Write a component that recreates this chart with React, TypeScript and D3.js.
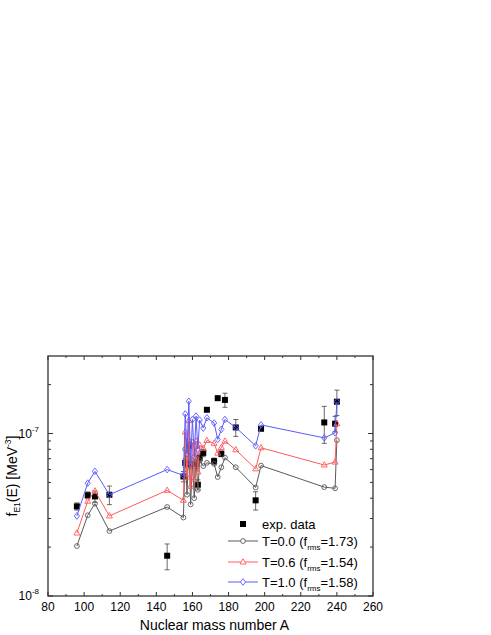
import React, { useEffect, useRef } from "react";
import * as d3 from "d3";

// nuclear mass numbers used by the model curves
const massA = [96, 102, 106, 114, 146, 155, 156, 157, 158, 159, 160, 161, 162, 163, 164, 166, 168, 172, 174, 176, 178, 184, 195, 198, 233, 239, 240];

// f_E1(E) in MeV^-3 for three temperatures
const fT00 = [2.03e-8, 3.14e-8, 3.7e-8, 2.51e-8, 3.53e-8, 3.04e-8, 8.0e-8, 4.2e-8, 9.0e-8, 3.66e-8, 6.8e-8, 4.0e-8, 7.0e-8, 4.5e-8, 6.8e-8, 6.3e-8, 6.6e-8, 6.5e-8, 5.4e-8, 6.2e-8, 7.1e-8, 6.2e-8, 4.65e-8, 6.35e-8, 4.68e-8, 4.6e-8, 9.1e-8];
const fT06 = [2.44e-8, 3.83e-8, 4.43e-8, 3.11e-8, 4.47e-8, 3.88e-8, 1.02e-7, 5.4e-8, 1.2e-7, 4.73e-8, 8.8e-8, 5.2e-8, 9.0e-8, 5.8e-8, 8.5e-8, 8.1e-8, 9.06e-8, 8.7e-8, 7.57e-8, 8.2e-8, 8.97e-8, 7.94e-8, 6.06e-8, 8.17e-8, 6.4e-8, 6.67e-8, 1.15e-7];
const fT10 = [3.11e-8, 4.95e-8, 5.85e-8, 4.2e-8, 6.0e-8, 5.52e-8, 1.32e-7, 7.5e-8, 1.58e-7, 6.5e-8, 1.22e-7, 7.2e-8, 1.28e-7, 8.0e-8, 1.21e-7, 1.08e-7, 1.25e-7, 1.16e-7, 9.2e-8, 1.06e-7, 1.22e-7, 1.09e-7, 8.4e-8, 1.13e-7, 9.4e-8, 1.01e-7, 1.57e-7];

// experimental points
const expA = [96, 102, 106, 114, 146, 155, 156, 158, 159, 162, 163, 164, 166, 168, 172, 174, 176, 178, 184, 195, 198, 233, 239, 240];
const expF = [3.56e-8, 4.17e-8, 4.1e-8, 4.2e-8, 1.77e-8, 5.44e-8, 6.6e-8, 8.4e-8, 6.46e-8, 6.5e-8, 4.84e-8, 7.1e-8, 7.6e-8, 1.4e-7, 6.76e-8, 1.65e-7, 7.5e-8, 1.61e-7, 1.09e-7, 3.88e-8, 1.07e-7, 1.17e-7, 1.15e-7, 1.57e-7];
const expErr = [0.18e-8, 0.2e-8, 0.33e-8, 0.55e-8, 0.32e-8, 0.4e-8, 0.4e-8, 0.5e-8, 0.4e-8, 0.4e-8, 0.35e-8, 0.4e-8, 0.4e-8, 0, 0.3e-8, 0, 0.3e-8, 1.6e-8, 1.3e-8, 0.5e-8, 0.3e-8, 3.0e-8, 1.25e-8, 2.8e-8];

const xMajor = [80, 100, 120, 140, 160, 180, 200, 220, 240, 260];
const xMinor = [90, 110, 130, 150, 170, 190, 210, 230, 250];
const yMajor = [1e-8, 1e-7];
const yMinor = [2e-8, 3e-8, 4e-8, 5e-8, 6e-8, 7e-8, 8e-8, 9e-8, 2e-7];

const seriesNames = ["T=0.0", "T=0.6", "T=1.0"];
const seriesRms = ["1.73", "1.54", "1.58"];

const FONT = "Arial, 'Liberation Sans', sans-serif";

const App = () => {
  const chartRef = useRef<SVGSVGElement>(null);

  useEffect(() => {
    const svg = d3.select(chartRef.current);
    svg.selectAll("*").remove();

    const left = 48, right = 373, top = 356, bottom = 596;
    const x = d3.scaleLinear().domain([80, 260]).range([left, right]);
    const y = d3.scaleLog().domain([1e-8, 3e-7]).range([bottom, top]);

    const axisColor = "#333";

    // ticks, pointing inward on all four sides
    const ticks = svg.append("g").attr("stroke", axisColor).attr("stroke-width", 1);
    [...xMajor.map(v => [v, 4]), ...xMinor.map(v => [v, 2])].forEach(([v, len]) => {
      ticks.append("line").attr("x1", x(v)).attr("x2", x(v)).attr("y1", bottom).attr("y2", bottom - len);
      ticks.append("line").attr("x1", x(v)).attr("x2", x(v)).attr("y1", top).attr("y2", top + len);
    });
    [...yMajor.map(v => [v, 5]), ...yMinor.map(v => [v, 3])].forEach(([v, len]) => {
      ticks.append("line").attr("x1", left).attr("x2", left + len).attr("y1", y(v)).attr("y2", y(v));
      ticks.append("line").attr("x1", right).attr("x2", right - len).attr("y1", y(v)).attr("y2", y(v));
    });

    // frame
    svg.append("rect")
      .attr("x", left).attr("y", top)
      .attr("width", right - left).attr("height", bottom - top)
      .attr("fill", "none").attr("stroke", axisColor).attr("stroke-width", 1.3);

    // x tick labels
    svg.selectAll(".xlab")
      .data(xMajor)
      .enter()
      .append("text")
      .attr("class", "xlab")
      .attr("x", d => x(d))
      .attr("y", bottom + 15)
      .attr("text-anchor", "middle")
      .style("font-family", FONT)
      .style("font-size", "12px")
      .text(d => d);

    // y tick labels 10^-n
    yMajor.forEach(v => {
      const t = svg.append("text")
        .attr("x", left - 9)
        .attr("y", y(v) + 4)
        .attr("text-anchor", "end")
        .style("font-family", FONT)
        .style("font-size", "12px");
      t.append("tspan").text("10");
      t.append("tspan").attr("dy", -6).style("font-size", "8px").text(String(Math.round(Math.log10(v))));
    });

    // axis titles
    svg.append("text")
      .attr("x", (left + right) / 2 + 4)
      .attr("y", 630)
      .attr("text-anchor", "middle")
      .style("font-family", FONT)
      .style("font-size", "14px")
      .text("Nuclear mass number A");

    const yt = svg.append("text")
      .attr("transform", `translate(17,${(top + bottom) / 2}) rotate(-90)`)
      .attr("text-anchor", "middle")
      .style("font-family", FONT)
      .style("font-size", "14px");
    yt.append("tspan").text("f");
    yt.append("tspan").attr("dy", 3).style("font-size", "8.5px").text("E1");
    yt.append("tspan").attr("dy", -3).text("(E) [MeV");
    yt.append("tspan").attr("dy", -6).style("font-size", "8.5px").text("-3");
    yt.append("tspan").attr("dy", 6).text("]");

    // experimental data with error bars
    const expG = svg.append("g");
    expA.forEach((a, i) => {
      const f = expF[i], e = expErr[i];
      if (e > 0) {
        expG.append("line")
          .attr("x1", x(a)).attr("x2", x(a))
          .attr("y1", y(f - e)).attr("y2", y(f + e))
          .attr("stroke", "#444").attr("stroke-width", 0.8);
        [f - e, f + e].forEach(v => {
          expG.append("line")
            .attr("x1", x(a) - 2.5).attr("x2", x(a) + 2.5)
            .attr("y1", y(v)).attr("y2", y(v))
            .attr("stroke", "#444").attr("stroke-width", 0.8);
        });
      }
      expG.append("rect")
        .attr("x", x(a) - 3).attr("y", y(f) - 3)
        .attr("width", 6).attr("height", 6)
        .attr("fill", "#000");
    });

    // model curves
    const marker = (kind: string, cx: number, cy: number) => {
      if (kind === "circle") {
        return `M${cx + 2.4},${cy}A2.4,2.4 0 1,1 ${cx - 2.4},${cy}A2.4,2.4 0 1,1 ${cx + 2.4},${cy}Z`;
      }
      if (kind === "triangle") {
        return `M${cx},${cy - 3.3}L${cx + 3},${cy + 2}L${cx - 3},${cy + 2}Z`;
      }
      return `M${cx},${cy - 3.3}L${cx + 2.6},${cy}L${cx},${cy + 3.3}L${cx - 2.6},${cy}Z`;
    };

    const series = [
      { vals: fT00, color: "#5a5a5a", kind: "circle" },
      { vals: fT06, color: "#ff5a5a", kind: "triangle" },
      { vals: fT10, color: "#5a5aff", kind: "diamond" },
    ];

    const line = d3.line<number>()
      .x((_, i) => x(massA[i]))
      .y(d => y(d));

    series.forEach(s => {
      svg.append("path")
        .attr("d", line(s.vals))
        .attr("fill", "none")
        .attr("stroke", s.color)
        .attr("stroke-width", 1);
      svg.append("g")
        .selectAll("path")
        .data(s.vals)
        .enter()
        .append("path")
        .attr("d", (d, i) => marker(s.kind, x(massA[i]), y(d)))
        .attr("fill", "none")
        .attr("stroke", s.color)
        .attr("stroke-width", 0.9);
    });

    // legend
    const lgX = 243;
    const lgRows = [524, 541, 562, 582];
    svg.append("rect")
      .attr("x", lgX - 3).attr("y", lgRows[0] - 3)
      .attr("width", 6).attr("height", 6)
      .attr("fill", "#000");
    svg.append("text")
      .attr("x", 262).attr("y", lgRows[0] + 4.5)
      .style("font-family", FONT)
      .style("font-size", "13px")
      .text("exp. data");

    series.forEach((s, i) => {
      const ly = lgRows[i + 1];
      svg.append("line")
        .attr("x1", 228).attr("x2", 258)
        .attr("y1", ly).attr("y2", ly)
        .attr("stroke", s.color).attr("stroke-width", 1);
      svg.append("path")
        .attr("d", marker(s.kind, lgX, ly))
        .attr("fill", "#fff")
        .attr("stroke", s.color)
        .attr("stroke-width", 0.9);
      const t = svg.append("text")
        .attr("x", 262).attr("y", ly + 4.5)
        .style("font-family", FONT)
        .style("font-size", "13px");
      t.append("tspan").text(`${seriesNames[i]} (f`);
      t.append("tspan").attr("dy", 4).style("font-size", "8px").text("rms");
      t.append("tspan").attr("dy", -4).text(`=${seriesRms[i]})`);
    });
  }, []);

  return (
    <svg
      ref={chartRef}
      width="491"
      height="635"
      style={{ position: "absolute", left: 0, top: 0, background: "#fff" }}
    ></svg>
  );
};

export default App;
